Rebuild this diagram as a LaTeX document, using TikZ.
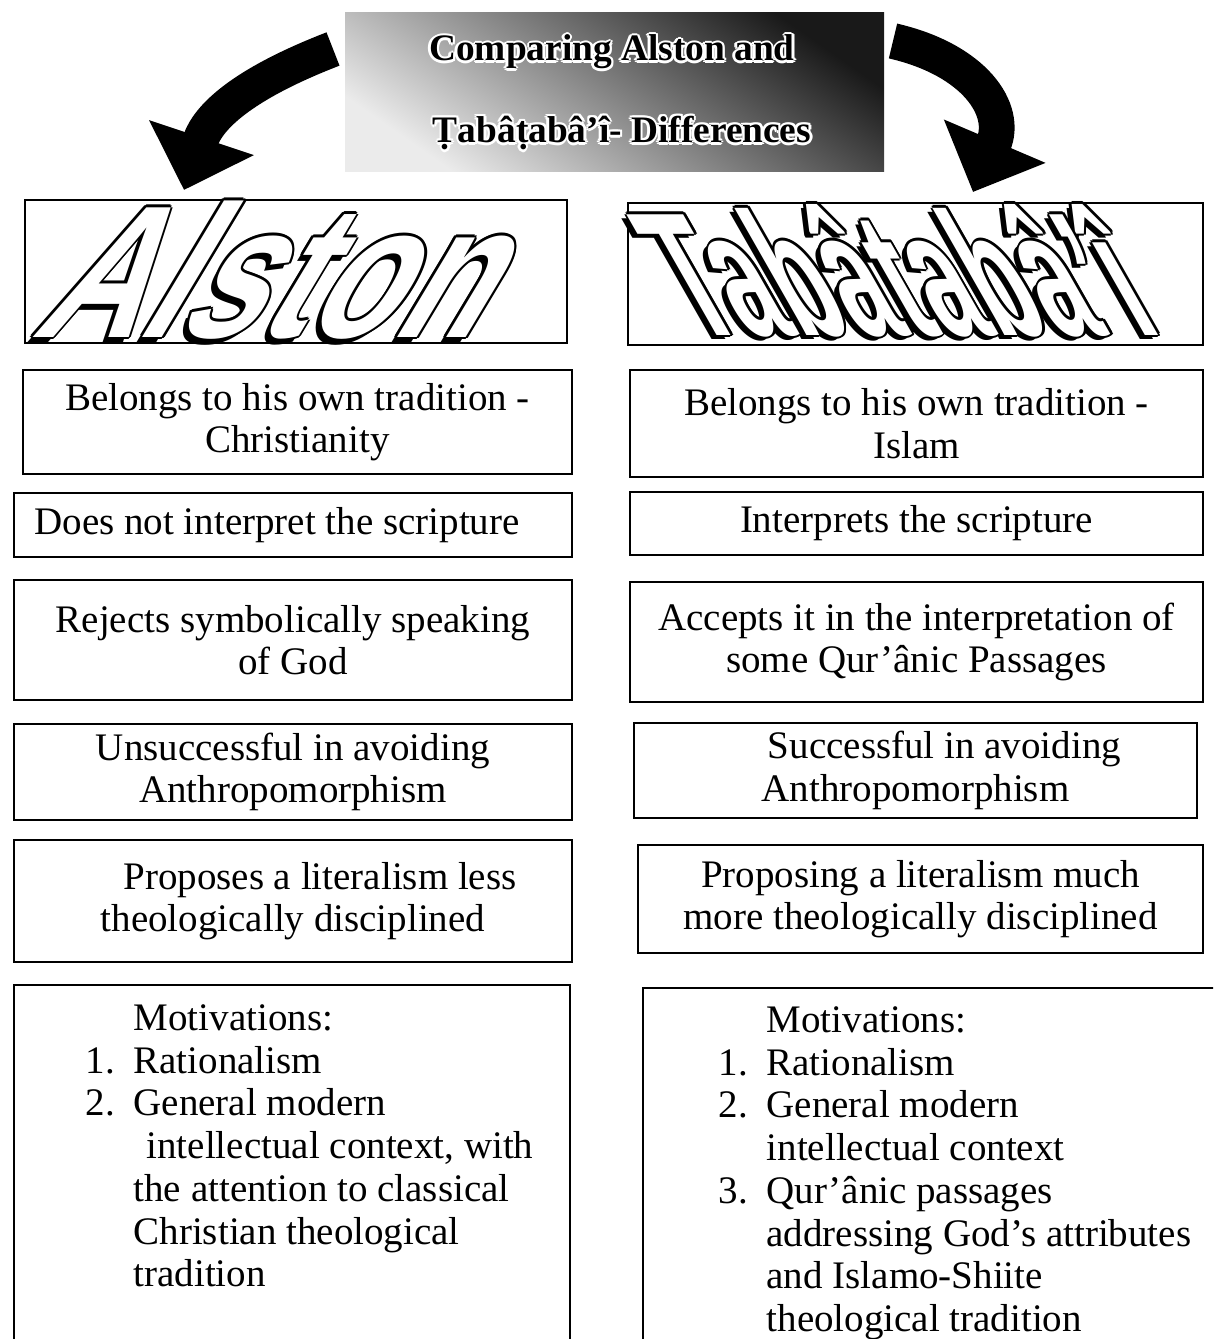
\documentclass[tikz,border=0pt]{standalone}
\usepackage{fontspec}
\setmainfont{Liberation Serif}
\newfontfamily\artfont{Liberation Sans}
\usepackage{tikz}
\usetikzlibrary{arrows.meta}
\definecolor{titledark}{RGB}{25, 25, 25}
\definecolor{titlemid}{RGB}{115, 115, 115}
\definecolor{titlelight}{RGB}{235, 235, 235}
\newdimen\px \px=0.3077pt
\newcommand\itm[1]{\makebox[48\px][l]{#1}}

\begin{document}
\begin{tikzpicture}[x=0.3077pt, y=-0.3077pt,
        box/.style={draw, line width=0.7pt, inner sep=0pt, align=center,
            font=\fontsize{12}{13.1}\selectfont},
        listtext/.style={inner sep=0pt, align=left, anchor=north west,
            font=\fontsize{12}{13.15}\selectfont},
        titlebox/.style={inner sep=0pt, shade, top color=titledark, middle color=titlemid,
            bottom color=titlelight, shading angle=-35},
        titletext/.style={inner sep=0pt, font=\bfseries\fontsize{11.5}{12}\selectfont},
        arttext/.style={inner sep=0pt, anchor=base},
        alstonart/.style={arttext, font=\artfont\bfseries\fontsize{58}{58}\selectfont,
            xslant=0.6, xscale=0.76},
        tabart/.style={arttext, font=\artfont\bfseries\fontsize{54}{54}\selectfont,
            xslant=-0.57, xscale=0.55},
        bendarrow/.style={line width=11pt, -{Triangle[length=17pt, width=33pt]}}]
        \useasboundingbox (0,0) rectangle (1213,1339);
        \clip (0,0) rectangle (1213,1339);

        % 标题
        \node[titlebox, minimum width=539\px, minimum height=159\px] (title) at (614.5,92.5) {};
        \coordinate (tA) at (612,52);
        \coordinate (tB) at (622,133);
        \foreach \a in {0,45,...,315} {
            \node[titletext, text=white] (haloA\a) at ([shift={(\a:2.5)}]tA) {Comparing Alston and};
            \node[titletext, text=white] (haloB\a) at ([shift={(\a:2.5)}]tB) {Ṭabâṭabâ’î- Differences};
        }
        \node[titletext] (titleA) at (tA) {Comparing Alston and};
        \node[titletext] (titleB) at (tB) {Ṭabâṭabâ’î- Differences};

        % 弯箭头
        \coordinate (ltail) at (333,49);
        \coordinate (ltip) at (184,190);
        \coordinate (rtail) at (893,41);
        \coordinate (rtip) at (973,192);
        \draw[bendarrow] (ltail) .. controls (240,85) and (208,118) .. (ltip);
        \draw[bendarrow] (rtail) .. controls (975,60) and (1008,110) .. (rtip);

        % 艺术字
        \node[box, minimum width=542\px, minimum height=143\px] (alstonbox) at (296,271.5) {};
        \node[box, minimum width=575\px, minimum height=142\px] (tabbox) at (915.5,274) {};
        \coordinate (alstonbase) at (252,337);
        \coordinate (tabbase) at (930,335);
        \node[alstonart, text=black] (alstonshadow) at ([shift={(-6,6)}]alstonbase) {Alston};
        \node[tabart, text=black] (tabshadow) at ([shift={(-5,5)}]tabbase) {Tabâtabâ’î};
        \foreach \a in {0,45,...,315} {
            \node[alstonart, text=black] (alstonring\a) at ([shift={(\a:2.4)}]alstonbase) {Alston};
            \node[tabart, text=black] (tabring\a) at ([shift={(\a:2.4)}]tabbase) {Tabâtabâ’î};
        }
        \node[alstonart, text=white] (alstonword) at (alstonbase) {Alston};
        \node[tabart, text=white] (tabword) at (tabbase) {Tabâtabâ’î};

        % 左栏
        \node[box, minimum width=549\px, minimum height=104\px] (aTradition) at (297.5,422)
            {Belongs to his own tradition -\\Christianity};
        \node[box, minimum width=558\px, minimum height=64\px] (aScripture) at (293,525)
            {Does not interpret the scripture\hspace*{32\px}};
        \node[box, minimum width=558\px, minimum height=120\px] (aSymbol) at (293,640)
            {Rejects symbolically speaking\\of God};
        \node[box, minimum width=558\px, minimum height=96\px] (aAnthropo) at (293,772)
            {Unsuccessful in avoiding\\Anthropomorphism};
        \node[box, minimum width=558\px, minimum height=122\px] (aLiteral) at (293,901)
            {\hspace*{54\px}Proposes a literalism less\\theologically disciplined};
        \node[box, minimum width=556\px, minimum height=380\px] (aMotive) at (292,1175) {};
        \node[listtext] (aMotiveText) at (85,1004)
            {\itm{}Motivations:\\
             \itm{1.}Rationalism\\
             \itm{2.}General modern\\
             \itm{}\hspace*{13\px}intellectual context, with\\
             \itm{}the attention to classical\\
             \itm{}Christian theological\\
             \itm{}tradition};

        % 右栏
        \node[box, minimum width=573\px, minimum height=107\px] (tTradition) at (916.5,423.5)
            {Belongs to his own tradition -\\Islam};
        \node[box, minimum width=573\px, minimum height=63\px] (tScripture) at (916.5,523.5)
            {Interprets the scripture};
        \node[box, minimum width=573\px, minimum height=120\px] (tSymbol) at (916.5,642)
            {Accepts it in the interpretation of\\some Qur’ânic Passages};
        \node[box, minimum width=563\px, minimum height=95\px] (tAnthropo) at (915.5,770.5)
            {\hspace*{58\px}Successful in avoiding\\Anthropomorphism};
        \node[box, minimum width=565\px, minimum height=108\px] (tLiteral) at (920.5,899)
            {Proposing a literalism much\\more theologically disciplined};
        \node[box, minimum width=582\px, minimum height=380\px] (tMotive) at (934,1178) {};
        \node[listtext] (tMotiveText) at (718,1006)
            {\itm{}Motivations:\\
             \itm{1.}Rationalism\\
             \itm{2.}General modern\\
             \itm{}intellectual context\\
             \itm{3.}Qur’ânic passages\\
             \itm{}addressing God’s attributes\\
             \itm{}and Islamo-Shiite\\
             \itm{}theological tradition};
    \end{tikzpicture}
\end{document}
